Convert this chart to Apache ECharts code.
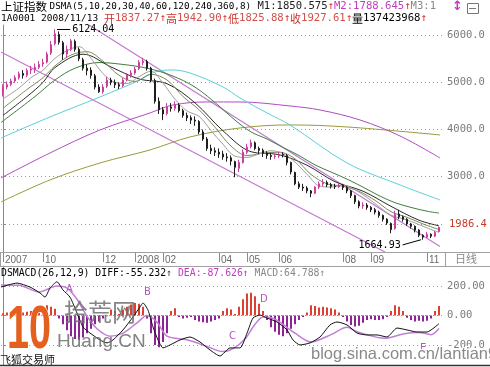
<!DOCTYPE html>
<html><head><meta charset="utf-8">
<script src="https://cdn.jsdelivr.net/npm/echarts@6/dist/echarts.min.js"></script>
<style>html,body{margin:0;padding:0;background:#fff}#c{width:490px;height:367px}</style>
</head><body><div id="c"></div>
<script>
// ---- candle data (each candle ~ 2-3 trading days, Aug 2007 - Nov 2008) ----
const opens  = [4800,4900,4960,5030,5100,5190,5150,5260,5270,5320,5390,5430,5620,5820,6020,5840,5600,5700,5870,5700,
 5480,5300,5260,5140,4900,4800,4920,5050,5000,4950,4930,5050,5150,5200,5290,5420,5440,5300,5040,4600,
 4420,4340,4480,4450,4520,4400,4300,4250,4200,4170,3950,3800,3600,3550,3520,3480,3420,3400,3320,3180,
 3300,3520,3640,3720,3600,3560,3500,3450,3430,3440,3470,3450,3300,3090,2850,2780,2760,2700,2650,2780,
 2850,2880,2830,2800,2790,2820,2770,2700,2600,2470,2380,2400,2350,2300,2250,2180,2100,2010,1900,2210,
 2150,2100,2000,1950,1870,1760,1720,1780,1740,1837.27];
const closes = [4900,4950,5030,5100,5180,5150,5250,5280,5320,5380,5420,5600,5800,6030,5850,5600,5700,5880,5700,5500,
 5300,5250,5150,4900,4800,4900,5050,5000,4950,4920,5050,5150,5200,5280,5420,5450,5300,5050,4600,4420,
 4330,4480,4450,4520,4400,4300,4250,4200,4180,3950,3800,3600,3550,3520,3480,3420,3400,3330,3200,3300,
 3520,3630,3720,3600,3560,3500,3450,3430,3440,3470,3460,3300,3100,2850,2780,2760,2700,2650,2780,2850,
 2880,2830,2800,2790,2820,2770,2700,2600,2470,2380,2400,2350,2300,2250,2180,2100,2020,1880,2200,2150,
 2100,2000,1950,1870,1760,1720,1780,1740,1820,1927.61];
const lows   = [4700,4850,4920,4990,5060,5080,5110,5180,5200,5280,5330,5400,5580,5780,5800,5480,5520,5660,5650,5450,
 5250,5150,5080,4850,4778,4760,4880,4940,4880,4860,4900,5020,5100,5160,5260,5360,5250,5000,4550,4330,
 4200,4300,4380,4400,4360,4250,4180,4120,4080,3900,3760,3550,3480,3440,3400,3360,3320,3240,2990,3100,
 3280,3480,3600,3560,3480,3420,3380,3360,3380,3400,3410,3240,3050,2820,2740,2700,2650,2566,2630,2740,
 2800,2780,2750,2740,2760,2720,2650,2550,2420,2330,2320,2300,2250,2200,2130,2050,1980,1802,1880,2100,
 2050,1960,1900,1820,1720,1664.93,1700,1700,1720,1825.88];
const highs  = [4960,5020,5080,5150,5230,5260,5300,5350,5400,5450,5500,5650,5880,6124.04,6080,5880,5780,5920,5910,5740,
 5520,5380,5320,5180,4960,4960,5120,5100,5060,5000,5090,5200,5260,5330,5470,5522,5480,5330,5080,4680,
 4480,4560,4560,4600,4560,4440,4360,4300,4280,4200,4000,3840,3680,3620,3600,3550,3500,3450,3340,3360,
 3580,3700,3786,3750,3640,3600,3540,3500,3490,3530,3520,3480,3320,3110,2900,2850,2800,2720,2800,2900,
 2950,2920,2870,2850,2870,2850,2800,2720,2620,2500,2460,2440,2380,2340,2280,2200,2120,2030,2280,2300,
 2180,2120,2020,1970,1890,1780,1830,1800,1850,1942.90];
const slotCount = 111;
// date axis tick labels (candle index -> text)
const tickIndex = [0,10,25,33,40,54,61,69,85,92,106];
const tickText  = ['2007','10','12','2008','02','04','05','06','08','09','11'];
// moving averages: [candle position, price]
const ma20  = [[0,4650],[4,4880],[7,5100],[10,5260],[13,5510],[16,5672],[19,5757],[22,5510],[25,5187],[28,5000],[31,4977],[34,5121],[37,5237],[40,4981],[43,4644],[46,4394],[49,4281],[52,3979],[55,3688],[58,3437],[61,3410],[64,3482],[67,3551],[70,3489],[73,3312],[76,3052],[79,2809],[82,2781],[85,2815],[88,2722],[91,2561],[94,2366],[97,2185],[100,2110],[103,2021],[106,1916],[109,1821]];
const ma30  = [[0,4450],[6,4850],[10,5100],[13,5350],[17,5580],[21,5650],[25,5450],[29,5150],[33,5020],[37,5170],[41,5050],[45,4700],[49,4420],[53,4050],[57,3650],[61,3450],[65,3500],[69,3520],[73,3380],[77,3050],[81,2850],[85,2800],[89,2690],[93,2500],[97,2260],[101,2140],[105,2000],[109,1880]];
const ma40  = [[0,4300],[6,4700],[10,5000],[13,5314],[20,5597],[27,5327],[34,5073],[41,4971],[48,4566],[55,3973],[62,3530],[69,3468],[76,3243],[83,2895],[90,2694],[97,2373],[104,2079],[109,1960]];
const ma60  = [[-0.5,4150],[8,4700],[13,5050],[18,5300],[24,5420],[30,5380],[36,5300],[42,5150],[48,4900],[54,4500],[58,4200],[62,3950],[66,3800],[70,3620],[74,3450],[78,3250],[82,3100],[86,2950],[90,2780],[94,2600],[98,2450],[102,2350],[106,2270],[109,2230]];
const ma120 = [[-0.5,3822],[11.75,4267],[24.25,4691],[34.25,5051],[38,5220],[42.25,5263],[46.75,5199],[55,4903],[59.25,4670],[66,4352],[71.75,4098],[86,3292],[99.25,2826],[109.25,2508]];
const ma240 = [[-0.5,2974],[11.75,3504],[24.25,3991],[36.75,4352],[42.5,4521],[51,4585],[59.25,4585],[71.75,4500],[79.25,4415],[89.25,4203],[99.25,3864],[109.25,3398]];
const ma360 = [[-0.5,2466],[11.75,2932],[24.25,3292],[36.75,3568],[46.75,3843],[59.25,4034],[71.75,4098],[86,4055],[109.25,3886]];
const channelUpper = [[21.5,6216],[109.25,1523]];
const channelLower = [[-0.5,5644],[95.5,1405]];
// MACD panel
const macdHist = [15,20,25,20,15,20,25,30,35, 45,55,70,60,45,
 -20,-60,-100,-140,-160,-165,-150,-120,-90,-60,-40, -20,-5, 40,30,10, 40,60,75,85,80,60, -20,
 -120,-200,-215,-180,-120, 30,50, -10,-20,-15,-10, -30,-40,-45,-50,-40,-30,-20, 30,50,40,10,
 60,110,150,155,130,80,30, -30,-80,-110,-130,-140,-120,-90,-60,-30, -10,20, 70,65,55,60,55,50,40,20,
 -10, -40,-65,-75,-70,-50,-30, -25,-30,-30,-25,-10, 30,70,60,30, -15,-30,-40,-35,-40,-35,-20, 30,64.788];
const diffLine = [[-0.5,193],[3.5,220],[6.75,193],[9.25,153],[10.5,125],[11.75,186],[13.5,229],[15,173],[16.75,125],[18.5,17],[20,-78],[21.75,-119],[24.25,-166],[26,-186],[27.5,-166],[30,-98],[32.5,-10],[34.25,58],[35,85],[36.25,37],[37.5,-78],[38.75,-166],[40,-220],[41.75,-200],[44.25,-166],[46.75,-146],[49.25,-180],[51.75,-234],[54.25,-275],[56.75,-220],[59.25,-220],[61,-120],[62.5,-17],[64.25,3],[66,-17],[68.5,-44],[71,-98],[72.5,-166],[74.25,-200],[76.75,-186],[79.25,-146],[81.75,-64],[83.5,-44],[86,-64],[88.5,-119],[91,-132],[93.5,-132],[96,-146],[98.5,-85],[101,-98],[103.5,-112],[106,-112],[109,-55.232]];
const deaLine = [[-0.5,207],[4,205],[9,160],[13.5,200],[16,186],[18.5,110],[21,-5],[23.5,-90],[26.75,-140],[30,-120],[33.5,-50],[36,0],[38.5,-45],[41,-140],[46,-165],[51,-210],[55,-245],[57.5,-225],[60.5,-160],[63,-60],[65,-10],[68,-25],[73,-120],[77,-180],[82,-130],[86,-80],[88.5,-110],[95.5,-155],[100,-125],[104,-115],[107,-130],[109,-87.626]];
const priceTicks = [2000,3000,4000,5000,6000];
const priceLabels = [3000,4000,5000,6000];
const macdTicks = [-200,0,200];
const markPrice = 1986.4;
const peak = {pos:13.5, value:6124.04};
const trough = {pos:104.5, value:1664.93};

const categories = Array.from({length: slotCount}, (_, i) => String(i));
const candles = closes.map((c, i) => [opens[i], c, lows[i], highs[i]]);

const MONO = 'DejaVu Sans Mono', CJK = 'Noto Sans CJK SC', SANS = 'Liberation Sans';
const grey = '#7a7a7a', red = '#d0342c', mag = '#c03cc0';
const ma = (name, data, color, w) => ({
  type:'line', name, data, xAxisIndex:1, yAxisIndex:0, symbol:'none', smooth:0.35,
  lineStyle:{color, width:w||1}, silent:true, z:3
});

const chart = echarts.init(document.getElementById('c'), null, {renderer:'canvas'});
chart.setOption({
  animation:false,
  backgroundColor:'#fff',
  grid:[{left:1, top:25, width:444, height:227}, {left:1, top:266, width:444, height:99}],
  xAxis:[
    {type:'category', gridIndex:0, data:categories, boundaryGap:true,
     axisLine:{show:true, lineStyle:{color:'#a0a0a0'}},
     axisTick:{show:true, alignWithLabel:true, length:10, interval:(i)=>tickIndex.includes(i), lineStyle:{color:'#8a8a8a'}},
     axisLabel:{show:true, interval:(i)=>tickIndex.includes(i), formatter:(v,i)=>tickText[tickIndex.indexOf(i)],
       align:'left', margin:3, padding:[0,0,0,2], color:'#6a6a6a', fontFamily:SANS, fontSize:10},
     splitLine:{show:false}},
    {type:'value', gridIndex:0, min:-0.5, max:slotCount-0.5, show:false},
    {type:'category', gridIndex:1, data:categories, boundaryGap:true, show:false},
    {type:'value', gridIndex:1, min:-0.5, max:slotCount-0.5, show:false}
  ],
  yAxis:[
    {type:'value', gridIndex:0, position:'right', min:1405, max:6216, scale:true,
     axisLine:{show:true, lineStyle:{color:'#8a8a8a'}},
     axisTick:{show:true, length:3, customValues:priceTicks, lineStyle:{color:'#8a8a8a'}},
     axisLabel:{show:true, customValues:priceLabels, formatter:v=>v.toFixed(1), margin:2,
       color:grey, fontFamily:MONO, fontSize:10.5},
     splitLine:{show:true, lineStyle:{color:'#9a9a9a', type:[1,3], width:1}}},
    {type:'value', gridIndex:1, position:'right', min:-336, max:336,
     axisLine:{show:true, lineStyle:{color:'#8a8a8a'}},
     axisTick:{show:true, length:3, customValues:macdTicks, lineStyle:{color:'#8a8a8a'}},
     axisLabel:{show:true, customValues:macdTicks, margin:2, color:grey, fontFamily:MONO, fontSize:10.5,
       formatter:v=> v===200?'200.00':(v===0?'0.00':'-200.0')},
     splitLine:{show:true, lineStyle:{color:'#9a9a9a', type:[1,3], width:1}}}
  ],
  series:[
    ma('MA360', ma360, '#9a9a3c'),
    ma('MA240', ma240, '#b04cc0'),
    ma('MA120', ma120, '#5ccfd8'),
    ma('MA60', ma60, '#3f7f3f'),
    ma('MA40', ma40, '#2a2a2a'),
    ma('MA30', ma30, '#7d8a5a'),
    ma('MA20', ma20, '#a0a0a0'),
    {type:'line', name:'upper', data:channelUpper, xAxisIndex:1, yAxisIndex:0, symbol:'none',
     lineStyle:{color:'#c47ad2', width:1.3}, silent:true, z:2,
     markLine:{symbol:'none', silent:true, animation:false,
       lineStyle:{color:'#000', width:1, type:'solid'},
       data:[
        [{coord:[peak.pos, peak.value]}, {coord:[peak.pos+3.3, peak.value],
          label:{show:true, position:'end', distance:2, formatter:peak.value.toFixed(2), color:'#000', fontFamily:MONO, fontSize:10}}],
        [{coord:[trough.pos, trough.value]}, {coord:[trough.pos-4.6, 1555],
          label:{show:true, position:'end', distance:2, formatter:trough.value.toFixed(2), color:'#000', fontFamily:MONO, fontSize:10}}]
       ]}},
    {type:'line', name:'lower', data:channelLower, xAxisIndex:1, yAxisIndex:0, symbol:'none',
     lineStyle:{color:'#c47ad2', width:1.3}, silent:true, z:2,
     markLine:{symbol:'none', silent:true, animation:false, lineStyle:{color:'rgba(255,255,255,0)', width:0},
       data:[{yAxis:markPrice, label:{show:true, position:'end', distance:4, formatter:markPrice.toFixed(1), color:'#c83c28', fontFamily:MONO, fontSize:10.5, opacity:1}}]}},
    {type:'candlestick', name:'上证指数', data:candles, xAxisIndex:0, yAxisIndex:0, barWidth:2, z:4,
     itemStyle:{color:'#c8409c', color0:'#1e1e1e', borderColor:'#c8409c', borderColor0:'#1e1e1e', borderWidth:1}},
    {type:'bar', name:'MACD', data:macdHist, xAxisIndex:2, yAxisIndex:1, barWidth:2, silent:true,
     itemStyle:{color:(p)=> p.value>=0 ? '#dc4030' : '#8c2496'}},
    {type:'line', name:'DEA', data:deaLine, xAxisIndex:3, yAxisIndex:1, symbol:'none', smooth:0.3,
     lineStyle:{color:'#c27ed6', width:1.5}, silent:true},
    {type:'line', name:'DIFF', data:diffLine, xAxisIndex:3, yAxisIndex:1, symbol:'none', smooth:0.2,
     lineStyle:{color:'#111', width:1}, silent:true}
  ],
  graphic:[
    {type:'text', left:1, top:1, z:10, style:{
      text:'{c|上证指数 }{n|DSMA(5,10,20,30,40,60,120,240,360,8)}{w| M1:1850.575}{a|↑}{m|M2:1788.645}{a|↑}{g|M3:1}',
      rich:{c:{fontFamily:CJK, fontSize:11.5, fill:'#000'}, n:{fontFamily:MONO, fontSize:9.3, fill:'#000'},
            w:{fontFamily:MONO, fontSize:10.6, fill:'#222'}, a:{fontFamily:MONO, fontSize:10.6, fill:red},
            m:{fontFamily:MONO, fontSize:10.6, fill:mag}, g:{fontFamily:MONO, fontSize:10.6, fill:'#888'}}}},
    {type:'text', left:1, top:13, z:10, style:{
      text:'{n|1A0001 2008/11/13 }{c|开}{r|1837.27}{a|↑}{c|高}{r|1942.90}{a|↑}{c|低}{r|1825.88}{a|↑}{c|收}{r|1927.61}{a|↑}{k|量}{b|137423968}{a|↑}',
      rich:{n:{fontFamily:MONO, fontSize:9.5, fill:'#000'}, c:{fontFamily:CJK, fontSize:11, fill:red},
            r:{fontFamily:MONO, fontSize:10.6, fill:'#d0504a'}, a:{fontFamily:MONO, fontSize:10.6, fill:red},
            k:{fontFamily:CJK, fontSize:11, fill:'#000'}, b:{fontFamily:MONO, fontSize:10.6, fill:'#000'}}}},
    {type:'rect', left:446, top:0, z:11, shape:{width:44, height:24}, style:{fill:'#fff'}},
    {type:'text', left:452, top:0, z:12, style:{text:'↕', fill:mag, font:'bold 13px DejaVu Sans'}},
    {type:'rect', left:467, top:3, z:12, shape:{width:11, height:10}, style:{fill:'#fff', stroke:'#777', lineWidth:1}},
    {type:'line', z:12, shape:{x1:469, y1:8.5, x2:476, y2:8.5}, style:{stroke:'#777', lineWidth:1}},
    {type:'line', z:12, shape:{x1:0, y1:252.5, x2:490, y2:252.5}, style:{stroke:'#a0a0a0', lineWidth:1}},
    {type:'line', z:12, shape:{x1:0, y1:266.5, x2:490, y2:266.5}, style:{stroke:'#a0a0a0', lineWidth:1}},
    {type:'line', z:12, shape:{x1:445.5, y1:252, x2:445.5, y2:267}, style:{stroke:'#a0a0a0', lineWidth:1}},
    {type:'line', z:12, shape:{x1:0.5, y1:252, x2:0.5, y2:267}, style:{stroke:'#a0a0a0', lineWidth:1}},
    {type:'line', z:12, shape:{x1:0, y1:365.5, x2:490, y2:365.5}, style:{stroke:'#333', lineWidth:1.5}},
    {type:'text', left:455, top:253, z:12, style:{text:'日线', fill:'#888', font:'11px "Noto Sans CJK SC"'}},
    {type:'text', left:1, top:268, z:12, style:{
      text:'{b|DSMACD(26,12,9) DIFF:-55.232}{a|↑}{m| DEA:-87.626}{p|↑}{g| MACD:64.788}{q|↑}',
      rich:{b:{fontFamily:MONO, fontSize:9.8, fill:'#000'}, a:{fontFamily:MONO, fontSize:9.8, fill:'#333'},
            m:{fontFamily:MONO, fontSize:9.8, fill:mag}, p:{fontFamily:MONO, fontSize:9.8, fill:mag},
            g:{fontFamily:MONO, fontSize:9.8, fill:'#888'}, q:{fontFamily:MONO, fontSize:9.8, fill:'#888'}}}},
    {type:'text', left:66, top:284, z:12, style:{text:'A', fill:'#b456c0', font:'10px "DejaVu Sans"'}},
    {type:'text', left:144, top:287, z:12, style:{text:'B', fill:'#b456c0', font:'10px "DejaVu Sans"'}},
    {type:'text', left:229, top:331, z:12, style:{text:'C', fill:'#b456c0', font:'10px "DejaVu Sans"'}},
    {type:'text', left:260, top:294, z:12, style:{text:'D', fill:'#b456c0', font:'10px "DejaVu Sans"'}},
    {type:'text', left:420, top:343, z:12, style:{text:'E', fill:'#b456c0', font:'10px "DejaVu Sans"'}},
    {type:'text', left:0, top:354, z:12, style:{text:'飞狐交易师', fill:'#111', font:'11px "Noto Sans CJK SC"'}},
    {type:'text', x:7, y:300, scaleX:0.9, scaleY:1.4, z:13, style:{text:'10', fill:'#e4601e', font:'bold 44px "Liberation Sans"', stroke:'#fff', lineWidth:1}},
    {type:'text', left:64, top:300, z:13, style:{text:'拾荒网', fill:'rgba(110,110,110,0.85)', font:'24px "Noto Sans CJK SC"'}},
    {type:'text', left:57, top:332, z:13, style:{text:'Huang.CN', fill:'rgba(110,110,110,0.85)', font:'19px "Liberation Sans"'}},
    {type:'text', left:310, top:345, z:13, style:{text:'blog.sina.com.cn/lantian98', fill:'#8a8a8a', font:'16.5px "Liberation Sans"', stroke:'#fff', lineWidth:2}}
  ]
});
</script></body></html>
